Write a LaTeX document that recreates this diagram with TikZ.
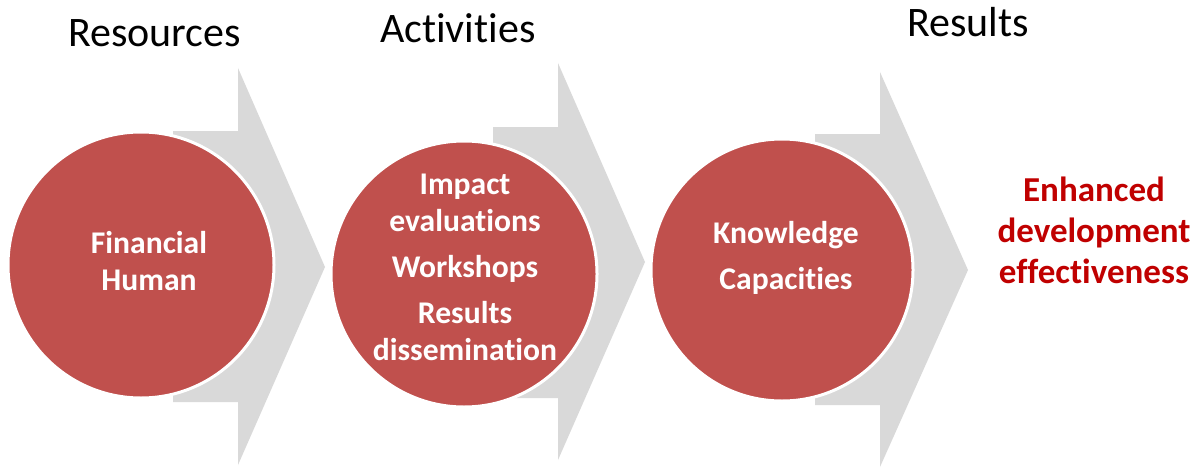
\documentclass[tikz,border=0pt]{standalone}
\usepackage{fontspec}
\setmainfont[Ligatures=NoCommon]{Carlito}
\definecolor{stagered}{HTML}{C0504D}
\definecolor{chevrongray}{HTML}{D9D9D9}
\definecolor{outcomered}{HTML}{C00000}
\begin{document}
\begin{tikzpicture}[x=1pt,y=-1pt,
  chevron/.style={fill=chevrongray,draw=none},
  stage/.style={circle,fill=stagered,draw=white,line width=3pt,inner sep=0pt},
  stagetext/.style={text=white,font=\fontsize{31.6}{37}\selectfont\bfseries,align=center,inner sep=0pt},
  heading/.style={font=\fontsize{42}{50}\selectfont,inner sep=0pt,anchor=base west},
  outcome/.style={text=outcomered,font=\fontsize{35}{41}\selectfont\bfseries,align=center,inner sep=0pt}]
\useasboundingbox (0,0) rectangle (1198,468);

% chevron arrows behind the circles
\fill[chevron] (173,131) -- (238,131) -- (238,68) -- (325,267) -- (238,465) -- (238,402) -- (173,402) -- cycle;
\fill[chevron] (493,127) -- (558,127) -- (558,63) -- (645,262) -- (558,460) -- (558,398) -- (493,398) -- cycle;
\fill[chevron] (815,134) -- (880,134) -- (880,72) -- (968,270) -- (880,467) -- (880,405) -- (815,405) -- cycle;

% stage circles
\node[stage,minimum size=266pt] (res) at (141,265) {};
\node[stage,minimum size=266pt] (act) at (464,274) {};
\node[stage,minimum size=262pt] (out) at (782,270) {};

% circle contents
\node[stagetext] (restext) at (149,261) {Financial\\Human};
\node[stagetext] (acttext) at (465,267.5) {Impact\\evaluations\\[9pt]Workshops\\[9pt]Results\\dissemination};
\node[stagetext] (outtext) at (786,257.5) {Knowledge\\[9pt]Capacities};

% headings
\node[heading] (hres) at (68,47) {Resources};
\node[heading] (hact) at (380,43) {Activities};
\node[heading] (hout) at (907,37) {Results};

% final outcome
\node[outcome] (goal) at (1094,230) {Enhanced\\development\\effectiveness};
\end{tikzpicture}
\end{document}
